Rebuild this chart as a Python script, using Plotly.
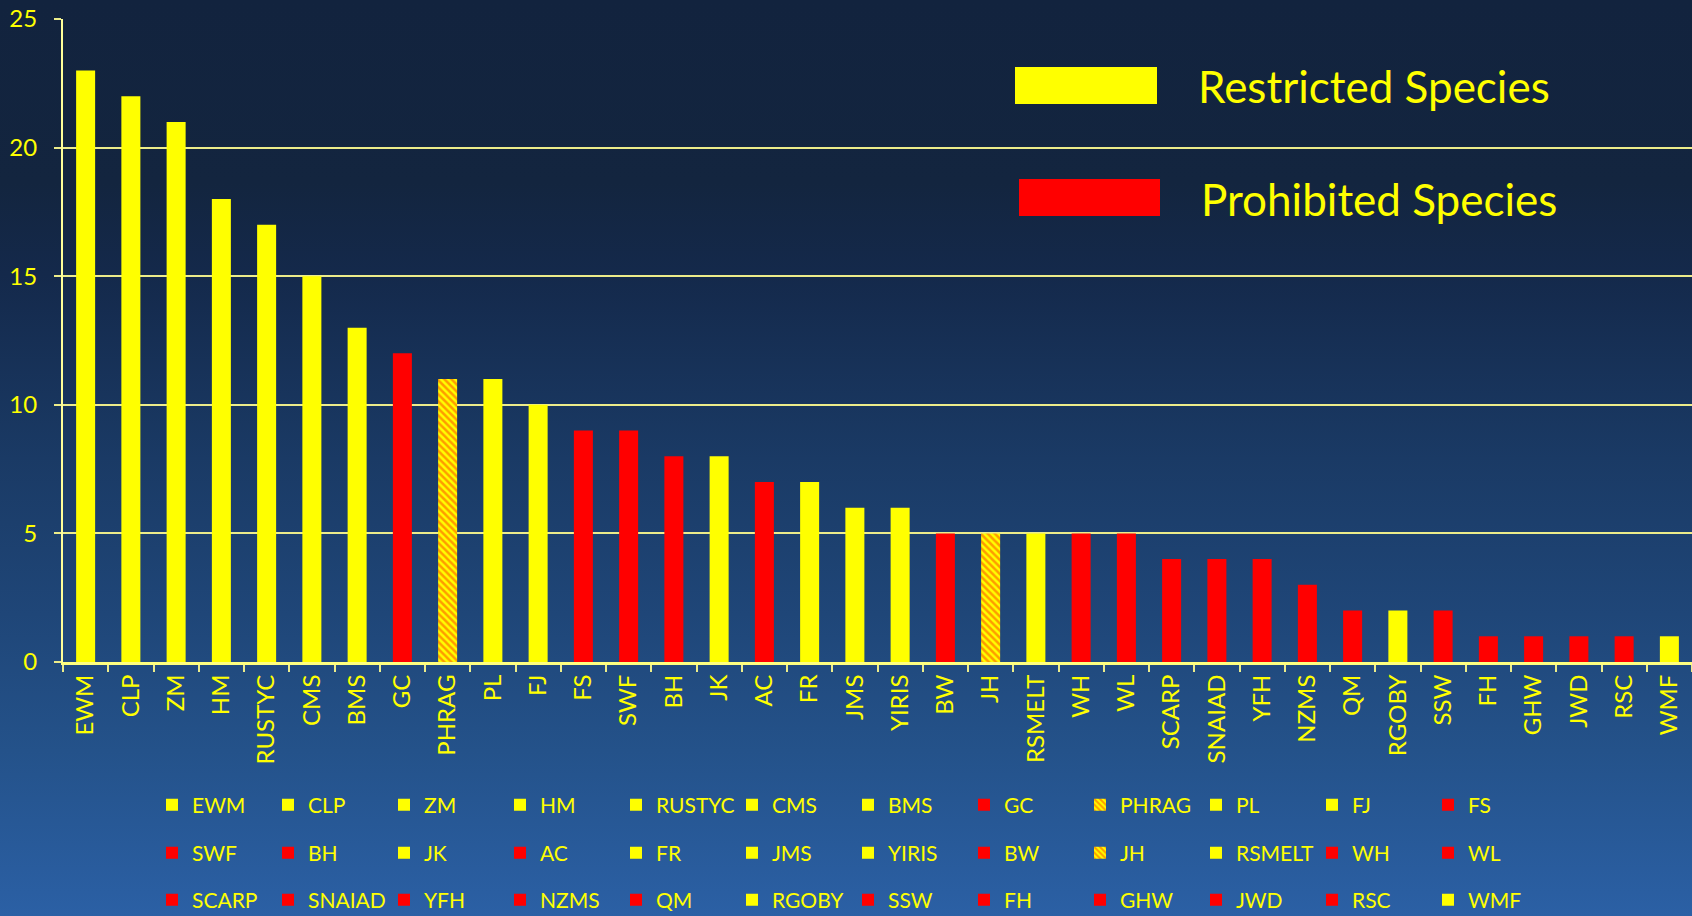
import base64
import plotly.graph_objects as go

# species counts, in chart order
species = ["EWM", "CLP", "ZM", "HM", "RUSTYC", "CMS", "BMS", "GC", "PHRAG", "PL", "FJ", "FS",
           "SWF", "BH", "JK", "AC", "FR", "JMS", "YIRIS", "BW", "JH", "RSMELT", "WH", "WL",
           "SCARP", "SNAIAD", "YFH", "NZMS", "QM", "RGOBY", "SSW", "FH", "GHW", "JWD", "RSC", "WMF"]
counts = [23, 22, 21, 18, 17, 15, 13, 12, 11, 11, 10, 9,
          9, 8, 8, 7, 7, 6, 6, 5, 5, 5, 5, 5,
          4, 4, 4, 3, 2, 2, 2, 1, 1, 1, 1, 1]
# R = restricted, P = prohibited, B = both (hatched)
status = ["R", "R", "R", "R", "R", "R", "R", "P", "B", "R", "R", "P",
          "P", "P", "R", "P", "R", "R", "R", "P", "B", "R", "P", "P",
          "P", "P", "P", "P", "P", "R", "P", "P", "P", "P", "P", "R"]
legend_labels = ["Restricted Species", "Prohibited Species"]

YELLOW = "#ffff00"
RED = "#ff0000"
GRID = "#ecec8a"
FONT = "Lato"

W, H = 1692, 916
L, R, T, B = 63, 0, 19, 254
PW, PH = W - L - R, H - T - B


def px_x(px):
    return (px - L) / PW


def px_y(py):
    return (H - B - py) / PH


fig = go.Figure()

legends = ["legend", "legend2", "legend3"]
for i, (name, val, st) in enumerate(zip(species, counts, status)):
    if st == "R":
        marker = dict(color=YELLOW)
    elif st == "P":
        marker = dict(color=RED)
    else:
        marker = dict(color=YELLOW, pattern=dict(shape="\\", fgcolor="#ff3800", bgcolor=YELLOW,
                                                 size=5, solidity=0.5))
    fig.add_trace(go.Bar(x=[name], y=[val], name=name, marker=marker,
                         marker_line_width=0, legend=legends[i // 12]))

# gradient background
stops = [(0, "#12233e"), (0.2, "#13253f"), (0.3, "#14294b"), (0.5, "#1a3a65"),
         (0.67, "#1f4678"), (0.82, "#24528a"), (1, "#2b60a5")]
stop_xml = "".join(f'<stop offset="{o}" stop-color="{c}"/>' for o, c in stops)
svg = (f'<svg xmlns="http://www.w3.org/2000/svg" width="{W}" height="{H}" preserveAspectRatio="none">'
       f'<defs><linearGradient id="g" x1="0" y1="0" x2="0" y2="1">{stop_xml}</linearGradient></defs>'
       f'<rect width="{W}" height="{H}" fill="url(#g)"/></svg>')
bg = "data:image/svg+xml;base64," + base64.b64encode(svg.encode()).decode()

legend_style = dict(orientation="h", xref="container", yref="container", xanchor="left",
                    yanchor="middle", entrywidth=71, entrywidthmode="pixels",
                    bgcolor="rgba(0,0,0,0)", font=dict(family=FONT, size=21, color=YELLOW),
                    itemclick=False, itemdoubleclick=False)
row_y = [805, 853, 900]

fig.update_layout(
    width=W, height=H,
    margin=dict(l=L, r=R, t=T, b=B),
    paper_bgcolor="#1a3a65",
    plot_bgcolor="rgba(0,0,0,0)",
    barmode="overlay",
    bargap=0.58,
    showlegend=True,
    font=dict(family=FONT, color=YELLOW),
    images=[dict(source=bg, xref="paper", yref="paper", x=px_x(0), y=px_y(0),
                 sizex=W / PW, sizey=H / PH, xanchor="left", yanchor="top",
                 sizing="stretch", layer="below")],
    legend=dict(legend_style, x=152 / W, y=1 - row_y[0] / H),
    legend2=dict(legend_style, x=152 / W, y=1 - row_y[1] / H),
    legend3=dict(legend_style, x=152 / W, y=1 - row_y[2] / H),
    xaxis=dict(categoryorder="array", categoryarray=species, tickangle=-90,
               tickfont=dict(family=FONT, size=24, color=YELLOW),
               showline=True, linecolor="#ffff80", linewidth=3,
               ticks="outside", tickson="boundaries", ticklen=7, tickcolor=GRID, tickwidth=2,
               showgrid=False, fixedrange=True),
    yaxis=dict(range=[0, 25], dtick=5, tickfont=dict(family=FONT, size=24, color=YELLOW),
               showline=True, linecolor="#ffff99", linewidth=2,
               showgrid=True, gridcolor=GRID, gridwidth=2, zeroline=False,
               ticks="outside", ticklen=7, tickcolor=GRID, tickwidth=2,
               ticklabelstandoff=12, fixedrange=True),
)

# key at top right
fig.add_shape(type="rect", xref="paper", yref="paper", x0=px_x(1015), x1=px_x(1157),
              y0=px_y(104), y1=px_y(67), fillcolor=YELLOW, line=dict(width=0))
fig.add_shape(type="rect", xref="paper", yref="paper", x0=px_x(1019), x1=px_x(1160),
              y0=px_y(216), y1=px_y(179), fillcolor=RED, line=dict(width=0))
fig.add_annotation(text=legend_labels[0], xref="paper", yref="paper", x=px_x(1196), y=px_y(86),
                   xanchor="left", yanchor="middle", showarrow=False,
                   font=dict(family=FONT, size=44, color=YELLOW))
fig.add_annotation(text=legend_labels[1], xref="paper", yref="paper", x=px_x(1199), y=px_y(199),
                   xanchor="left", yanchor="middle", showarrow=False,
                   font=dict(family=FONT, size=44, color=YELLOW))

fig.write_html("out.html", config={"displayModeBar": False},
               post_script="document.body.style.margin='0';")
